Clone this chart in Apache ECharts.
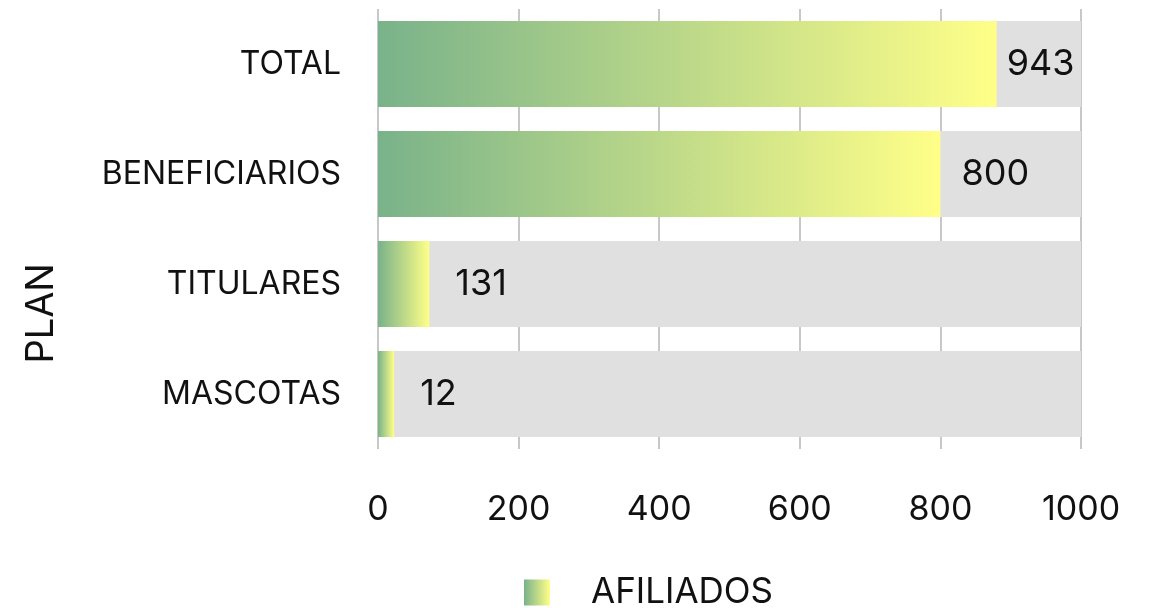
<!DOCTYPE html>
<html>
<head>
<meta charset="utf-8">
<script src="https://cdn.jsdelivr.net/npm/echarts@6/dist/echarts.min.js"></script>
<style>
  html, body { margin: 0; padding: 0; background: #fff; }
  #chart { width: 1156px; height: 608px; }
</style>
</head>
<body>
<div id="chart"></div>
<script>
// categories top to bottom
const plans = ['TOTAL', 'BENEFICIARIOS', 'TITULARES', 'MASCOTAS']
// bar lengths as drawn in the picture
const barValues = [880, 800, 73, 23]
// numbers printed next to the bars
const labelValues = [943, 800, 131, 12]
const xTicks = [0, 200, 400, 600, 800, 1000]

const FONT = 'Inter'
const grad = () => new echarts.graphic.LinearGradient(0, 0, 1, 0, [
  { offset: 0, color: '#79b28a' },
  { offset: 1, color: '#ffff88' }
])

const chart = echarts.init(document.getElementById('chart'), null, { renderer: 'canvas' })

// category axis goes bottom-up, so reverse
const cats = plans.slice().reverse()
const vals = barValues.slice().reverse()
const labs = labelValues.slice().reverse()

chart.setOption({
  animation: false,
  textStyle: { fontFamily: FONT },
  grid: { left: 378, right: 75, top: 9, bottom: 159 },
  xAxis: {
    type: 'value', min: xTicks[0], max: xTicks[xTicks.length - 1], interval: 200,
    axisLine: { show: false }, axisTick: { show: false },
    axisLabel: { color: '#111', fontSize: 34, margin: 44, fontFamily: FONT, formatter: v => String(v) },
    splitLine: { lineStyle: { color: '#c8c8c8', width: 2 } }
  },
  yAxis: {
    type: 'category', data: cats,
    axisLine: { show: false }, axisTick: { show: false },
    axisLabel: { color: '#111', fontSize: 32, margin: 37, fontFamily: FONT }
  },
  legend: {
    top: 575, left: 524, padding: 0, itemWidth: 26, itemHeight: 26, icon: 'rect',
    textStyle: { color: '#111', fontSize: 35, padding: [0, 0, 0, 36], fontFamily: FONT },
    data: ['AFILIADOS']
  },
  graphic: [{
    type: 'text', left: 23, top: 263, rotation: Math.PI / 2,
    style: { text: 'PLAN', fontSize: 38, fill: '#111', fontFamily: FONT }
  }],
  series: [{
    name: 'AFILIADOS', type: 'bar', barWidth: '78%',
    showBackground: true, backgroundStyle: { color: '#e0e0e0' },
    itemStyle: { color: grad() },
    data: vals.map((v, i) => ({
      value: v,
      label: { formatter: String(labs[i]), distance: labs[i] === 943 ? 10 : (labs[i] === 800 ? 21 : 26) }
    })),
    label: { show: true, position: 'right', color: '#111', fontSize: 36, fontFamily: FONT }
  }]
})
</script>
</body>
</html>
